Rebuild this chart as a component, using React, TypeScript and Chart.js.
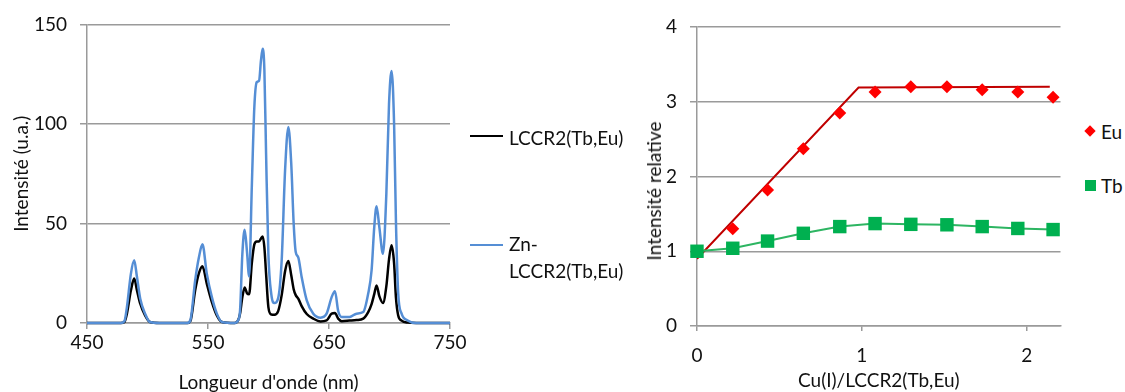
import React, { useEffect, useRef } from "react";
import { Chart, registerables } from "chart.js";

Chart.register(...registerables);

// ---- Left chart: emission spectra ----
const wavelengths = [450, 478, 481, 483, 486.3, 489, 491.3, 494, 498, 502, 510, 533, 535.5, 539.4, 542.5, 545.4, 549, 553.2, 557.3, 561.5, 572, 575, 576.5, 578.4, 580.3, 582.2, 584, 586.2, 588.3, 590.3, 592.2, 593.8, 595.2, 596.6, 598, 599.9, 602.3, 604.9, 608, 610.9, 613.7, 616.4, 618.8, 620.8, 622.5, 624.6, 627.4, 631.6, 637, 643, 648, 652.2, 654.9, 657.6, 660.5, 667, 672.8, 678.3, 682.4, 685.2, 687.4, 689.3, 691.6, 694.6, 697.4, 699.6, 701.7, 703.8, 705.3, 707.2, 710, 715, 722, 750];
const lccr2 = [0, 0, 0.5, 4.7, 16.4, 22.3, 16.4, 9.7, 3.8, 0.5, 0, 0, 1, 16.4, 25, 28.5, 19.8, 10.5, 3.8, 0.5, 0, 1.5, 4.7, 13, 17.8, 15, 14.5, 30, 39.5, 41, 41, 42.5, 43.5, 38, 24.8, 8, 4.3, 4.2, 6, 14, 26, 31.1, 24, 17, 14, 12.3, 8.5, 4.5, 2.2, 0.8, 1.3, 4.7, 5, 2.2, 0.9, 1.2, 1.5, 2.2, 5.5, 9.5, 14.5, 18.9, 13.5, 10, 18.5, 32, 39, 30, 13, 3.8, 1.2, 0.2, 0, 0];
const znLccr2 = [0, 0, 1, 8, 24.8, 31.5, 23.1, 12.2, 4.7, 0.5, 0, 0, 1.5, 21.4, 33, 39.5, 24.8, 13, 4.7, 0.5, 0, 1.5, 6.4, 34.8, 46.9, 36, 23.4, 68.3, 108.5, 121, 121.7, 132, 137.8, 127, 85, 34.8, 14.5, 10, 12.5, 31.5, 76.7, 98.5, 80, 50, 35.7, 33, 23.1, 11.4, 4.7, 2.7, 4.7, 13, 16, 6, 3, 3, 4.7, 5.5, 14.8, 26.5, 48.2, 58.6, 48.2, 34.8, 65, 110, 126.6, 100, 51.6, 14.8, 4.7, 1.3, 0, 0];
const leftLabels = ["LCCR2(Tb,Eu)", "Zn-LCCR2(Tb,Eu)"];

// ---- Right chart: relative intensity ----
const ratios = [0, 0.217, 0.428, 0.645, 0.866, 1.08, 1.297, 1.516, 1.73, 1.946, 2.16];
const euValues = [1.0, 1.3, 1.82, 2.37, 2.85, 3.13, 3.2, 3.2, 3.16, 3.13, 3.06];
const tbValues = [1.0, 1.04, 1.136, 1.24, 1.33, 1.37, 1.36, 1.354, 1.33, 1.305, 1.29];
const euFitX = [0, 0.98, 2.14];
const euFitY = [0.9, 3.19, 3.2];
const rightLabels = ["Eu", "Tb"];

const FONT = "Lato, 'Open Sans', sans-serif";
const GRID = "#9a9a9a";
const TEXT = "#111";
const FS = 19;

export default function App() {
  const leftRef = useRef<HTMLCanvasElement>(null);
  const rightRef = useRef<HTMLCanvasElement>(null);

  useEffect(() => {
    Chart.defaults.font.family = FONT;
    Chart.defaults.color = TEXT;
    const tickFont = { size: FS, family: FONT };
    const titleFont = { size: FS, family: FONT, lineHeight: 1 };

    const left = new Chart(leftRef.current!, {
      type: "line",
      data: {
        datasets: [
          {
            label: leftLabels[0],
            data: wavelengths.map((x, i) => ({ x, y: lccr2[i] })),
            borderColor: "#000000",
            borderWidth: 2.5,
            pointRadius: 0,
            cubicInterpolationMode: "monotone",
            order: 1,
            clip: 4,
          },
          {
            label: leftLabels[1],
            data: wavelengths.map((x, i) => ({ x, y: znLccr2[i] })),
            borderColor: "#558ED5",
            borderWidth: 2.5,
            pointRadius: 0,
            cubicInterpolationMode: "monotone",
            order: 0,
            clip: 4,
          },
        ],
      },
      options: {
        responsive: false,
        animation: false,
        layout: { padding: { top: 24, right: 20, left: 0, bottom: 0 } },
        plugins: { legend: { display: false }, tooltip: { enabled: false } },
        scales: {
          x: {
            type: "linear",
            min: 450,
            max: 750,
            ticks: { stepSize: 100, padding: 2, font: tickFont, color: TEXT },
            grid: { drawOnChartArea: false, drawTicks: true, tickLength: 6, color: GRID, lineWidth: 1.5 },
            border: { color: GRID, width: 1.5 },
            title: { display: true, text: "Longueur d'onde (nm)", font: titleFont, color: TEXT, padding: { top: 0, bottom: 0 } },
            afterFit: (s: any) => { s.height = 69; },
          },
          y: {
            min: 0,
            max: 150,
            ticks: { stepSize: 50, padding: 13, font: tickFont, color: TEXT },
            grid: { color: GRID, lineWidth: 1.5, tickLength: 7 },
            border: { color: GRID, width: 1.5 },
            title: { display: true, text: "Intensité (u.a.)", font: titleFont, color: TEXT, padding: { top: 12, bottom: 0 } },
            afterFit: (s: any) => { s.width = 87; },
          },
        },
      },
    } as any);

    const right = new Chart(rightRef.current!, {
      type: "scatter",
      data: {
        datasets: [
          {
            label: "Eu fit",
            data: euFitX.map((x, i) => ({ x, y: euFitY[i] })),
            showLine: true,
            borderColor: "#C00000",
            borderWidth: 2,
            pointRadius: 0,
            order: 3,
          },
          {
            label: rightLabels[0],
            data: ratios.map((x, i) => ({ x, y: euValues[i] })),
            showLine: false,
            pointStyle: "rectRot",
            pointRadius: 6.5,
            backgroundColor: "#FF0000",
            borderColor: "#FF0000",
            borderWidth: 0,
            order: 1,
            clip: false,
          },
          {
            label: rightLabels[1],
            data: ratios.map((x, i) => ({ x, y: tbValues[i] })),
            showLine: true,
            borderColor: "#2DB562",
            borderWidth: 2,
            pointStyle: "rect",
            pointRadius: 9.5,
            pointBackgroundColor: "#00B050",
            pointBorderColor: "#00B050",
            pointBorderWidth: 0,
            order: 0,
            clip: false,
          },
        ],
      },
      options: {
        responsive: false,
        animation: false,
        layout: { padding: { top: 27, right: 7, left: 0, bottom: 0 } },
        plugins: { legend: { display: false }, tooltip: { enabled: false } },
        scales: {
          x: {
            type: "linear",
            min: 0,
            max: 2.205,
            ticks: { stepSize: 1, includeBounds: false, padding: 13, font: tickFont, color: TEXT },
            grid: { drawOnChartArea: false, drawTicks: true, tickLength: 5, color: GRID, lineWidth: 1.5 },
            border: { color: GRID, width: 1.5 },
            title: { display: true, text: "Cu(I)/LCCR2(Tb,Eu)", font: titleFont, color: TEXT, padding: { top: 0, bottom: 2 } },
            afterFit: (s: any) => { s.height = 66; },
          },
          y: {
            min: 0,
            max: 4,
            ticks: { stepSize: 1, padding: 13, font: tickFont, color: TEXT },
            grid: { color: GRID, lineWidth: 1.5, tickLength: 7 },
            border: { color: GRID, width: 1.5 },
            title: { display: false },
            afterFit: (s: any) => { s.width = 97; },
          },
        },
      },
    } as any);

    return () => {
      left.destroy();
      right.destroy();
    };
  }, []);

  const textStyle: React.CSSProperties = {
    position: "absolute",
    fontFamily: FONT,
    fontSize: FS,
    lineHeight: "27px",
    color: TEXT,
    whiteSpace: "nowrap",
  };

  return (
    <div style={{ position: "fixed", left: 0, top: 0, width: 1125, height: 392, background: "#fff", overflow: "hidden" }}>
      <canvas ref={leftRef} width={470} height={392} style={{ position: "absolute", left: 0, top: 0 }} />
      <canvas ref={rightRef} width={470} height={392} style={{ position: "absolute", left: 600, top: 0 }} />

      {/* Right chart y-axis title */}
      <div
        style={{
          ...textStyle,
          left: 654,
          top: 191,
          lineHeight: "20px",
          transform: "translate(-50%, -50%) rotate(-90deg)",
        }}
      >
        Intensité relative
      </div>

      {/* Left legend */}
      <div style={{ position: "absolute", left: 470, top: 135, width: 33, height: 0, borderTop: "2.5px solid #000" }} />
      <div style={{ ...textStyle, left: 509, top: 123.5 }}>{leftLabels[0]}</div>
      <div style={{ position: "absolute", left: 470, top: 243.5, width: 33, height: 0, borderTop: "2.5px solid #558ED5" }} />
      <div style={{ ...textStyle, left: 509, top: 229.5 }}>
        Zn-
        <br />
        LCCR2(Tb,Eu)
      </div>

      {/* Right legend */}
      <div style={{ position: "absolute", left: 1086, top: 127, width: 8, height: 8, background: "#FF0000", transform: "rotate(45deg)" }} />
      <div style={{ ...textStyle, left: 1101, top: 117.5 }}>{rightLabels[0]}</div>
      <div style={{ position: "absolute", left: 1084.5, top: 179.5, width: 11, height: 11, background: "#00B050" }} />
      <div style={{ ...textStyle, left: 1101, top: 171.5 }}>{rightLabels[1]}</div>
    </div>
  );
}
